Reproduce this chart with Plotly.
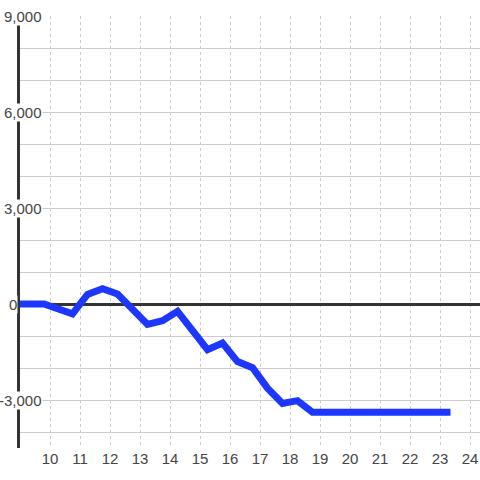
import plotly.graph_objects as go

# cumulative value over the day (hour of day on x)
hours = [9.0, 9.8, 10.75, 11.25, 11.75, 12.25, 13.25, 13.75, 14.25, 15.25, 15.75,
         16.25, 16.75, 17.25, 17.75, 18.25, 18.75, 23.35]
values = [0, 0, -310, 300, 480, 310, -640, -520, -230, -1430, -1220,
          -1800, -1990, -2630, -3110, -3020, -3380, -3380]

x_ticks = list(range(10, 25))
y_label_vals = [9000, 6000, 3000, 0, -3000]
y_label_text = ["9,000", "6,000", "3,000", "0", "-3,000"]

LINE_BLUE = "#1e37ff"
TEXT = "#444444"
GRID = "#cccccc"
FONT = "Arial"

fig = go.Figure()
fig.add_trace(go.Scatter(
    x=hours, y=values,
    mode="lines",
    line=dict(color=LINE_BLUE, width=7),
    hoverinfo="skip",
    showlegend=False,
))

# y tick labels drawn as boxed annotations so they sit over the axis line;
# long labels end just right of the axis, the lone "0" sits left of it
for v, t in zip(y_label_vals, y_label_text):
    short = len(t) == 1
    fig.add_annotation(
        x=0, xref="paper", y=v, yref="y",
        xshift=-12 if short else 23,
        xanchor="left" if short else "right",
        text=t, showarrow=False, yanchor="middle",
        font=dict(family=FONT, size=15, color=TEXT),
        bgcolor="white", borderpad=0,
    )

fig.update_layout(
    width=480, height=480,
    margin=dict(l=20, r=0, t=16, b=32),
    paper_bgcolor="white",
    plot_bgcolor="white",
    font=dict(family=FONT, size=15, color=TEXT),
    xaxis=dict(
        range=[9, 24.3333],
        tickvals=x_ticks,
        showgrid=True, gridcolor=GRID, gridwidth=1, griddash="dot",
        showline=False, zeroline=False, ticks="",
        tickfont=dict(family=FONT, size=15, color=TEXT),
    ),
    yaxis=dict(
        range=[-4500, 9000],
        dtick=1000, tick0=0,
        showticklabels=False,
        showgrid=True, gridcolor=GRID, gridwidth=1,
        showline=True, linecolor="#333333", linewidth=3,
        zeroline=True, zerolinecolor="#333333", zerolinewidth=3,
        ticks="",
    ),
)

fig.write_html("out.html", config={"displayModeBar": False},
               post_script="document.body.style.margin='0';")
